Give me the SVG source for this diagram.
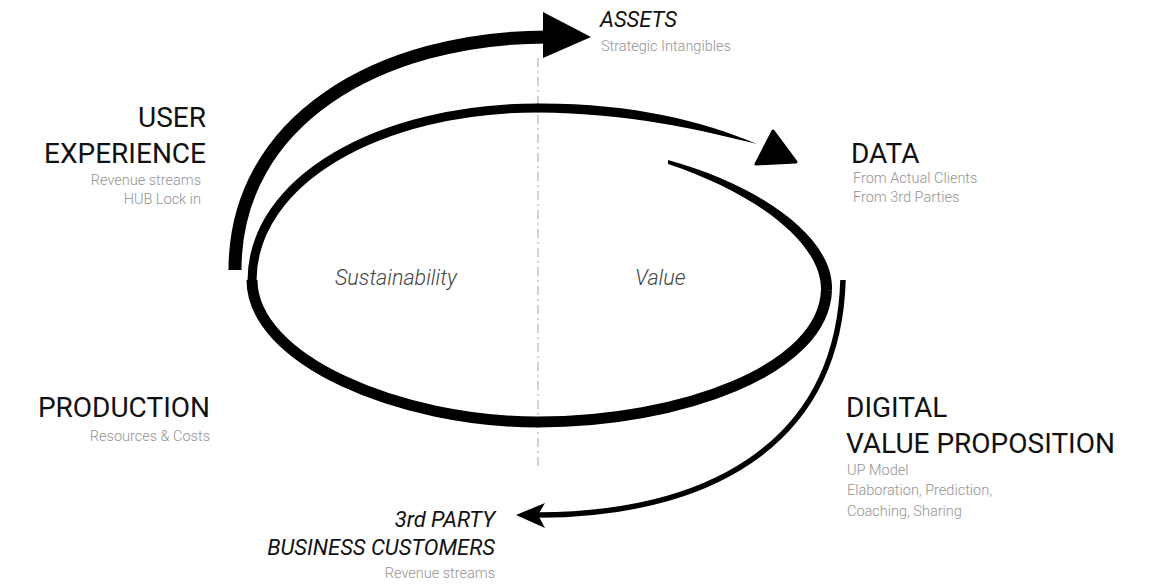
<svg xmlns="http://www.w3.org/2000/svg" width="1159" height="584" viewBox="0 0 1159 584">
<style>
.h{font-family:Roboto,"Liberation Sans",sans-serif;font-size:28px;fill:#111;}
.hi{font-family:Roboto,"Liberation Sans",sans-serif;font-size:22px;font-style:italic;fill:#111;}
.s{font-family:Roboto,"Liberation Sans",sans-serif;font-size:14.5px;font-weight:300;fill:#939393;}
.c{font-family:Roboto,"Liberation Sans",sans-serif;font-size:21.5px;font-style:italic;font-weight:300;fill:#444;}
.r{text-anchor:end;}
.ln{fill:none;stroke:#000;stroke-linecap:butt;}
.fill{fill:#000;stroke:none;}
</style>
<rect width="1159" height="584" fill="#fff"/>
<line id="divider" x1="538" y1="58" x2="538" y2="466" stroke="#c8c8c8" stroke-width="1.6" stroke-dasharray="9 4 2 4"/>
<g id="connectors">
  <!-- outer thick arc to ASSETS -->
  <path class="ln" d="M235,270 C235,120 380,37 548,37" stroke-width="13"/>
  <polygon class="fill" points="543,12 591,37 543,58"/>
  <!-- spiral loop -->
  <path class="fill" d="M668,160 C762,186 834,238 832,290 L821,290 C822,244 758,194 668,164 Z"/>
  <path class="ln" d="M826.5,290 C824,370 680,422 538,422 C400,422 252,360 252,280" stroke-width="11"/>
  <path class="ln" d="M252,281 C252,180 380,108 538,108" stroke-width="9"/>
  <path class="fill" d="M537,103.5 C632,103 702,121 757,144 C700,130 630,113 537,112.5 Z"/>
  <path d="M773,131 L756,164 L796,162 Z" fill="#000" stroke="#000" stroke-width="3" stroke-linejoin="round"/>
  <!-- arc to 3rd party -->
  <path class="ln" d="M843,280 C838,450 700,515 538,515" stroke-width="5.5"/>
  <polygon class="fill" points="516,515 545,503 538,515 545,528"/>
</g>
<g id="assets">
  <text class="hi" x="600" y="27">ASSETS</text>
  <text class="s" x="601" y="51">Strategic Intangibles</text>
</g>
<g id="user-experience">
  <text class="h r" x="206" y="127">USER</text>
  <text class="h r" x="206" y="163">EXPERIENCE</text>
  <text class="s r" x="201" y="185">Revenue streams</text>
  <text class="s r" x="201" y="204">HUB Lock in</text>
</g>
<g id="data">
  <text class="h" x="851" y="163">DATA</text>
  <text class="s" x="853" y="183">From Actual Clients</text>
  <text class="s" x="853" y="202">From 3rd Parties</text>
</g>
<g id="sustainability">
  <text class="c" x="335" y="285">Sustainability</text>
</g>
<g id="value">
  <text class="c" x="635" y="285">Value</text>
</g>
<g id="production">
  <text class="h r" x="210" y="417">PRODUCTION</text>
  <text class="s r" x="210" y="441">Resources &amp; Costs</text>
</g>
<g id="digital-value-proposition">
  <text class="h" x="846" y="417">DIGITAL</text>
  <text class="h" x="846" y="453">VALUE PROPOSITION</text>
  <text class="s" x="847" y="475">UP Model</text>
  <text class="s" x="847" y="495">Elaboration, Prediction,</text>
  <text class="s" x="847" y="516">Coaching, Sharing</text>
</g>
<g id="third-party">
  <text class="hi r" x="495" y="527">3rd PARTY</text>
  <text class="hi r" x="495" y="555">BUSINESS CUSTOMERS</text>
  <text class="s r" x="495" y="578">Revenue streams</text>
</g>
</svg>
